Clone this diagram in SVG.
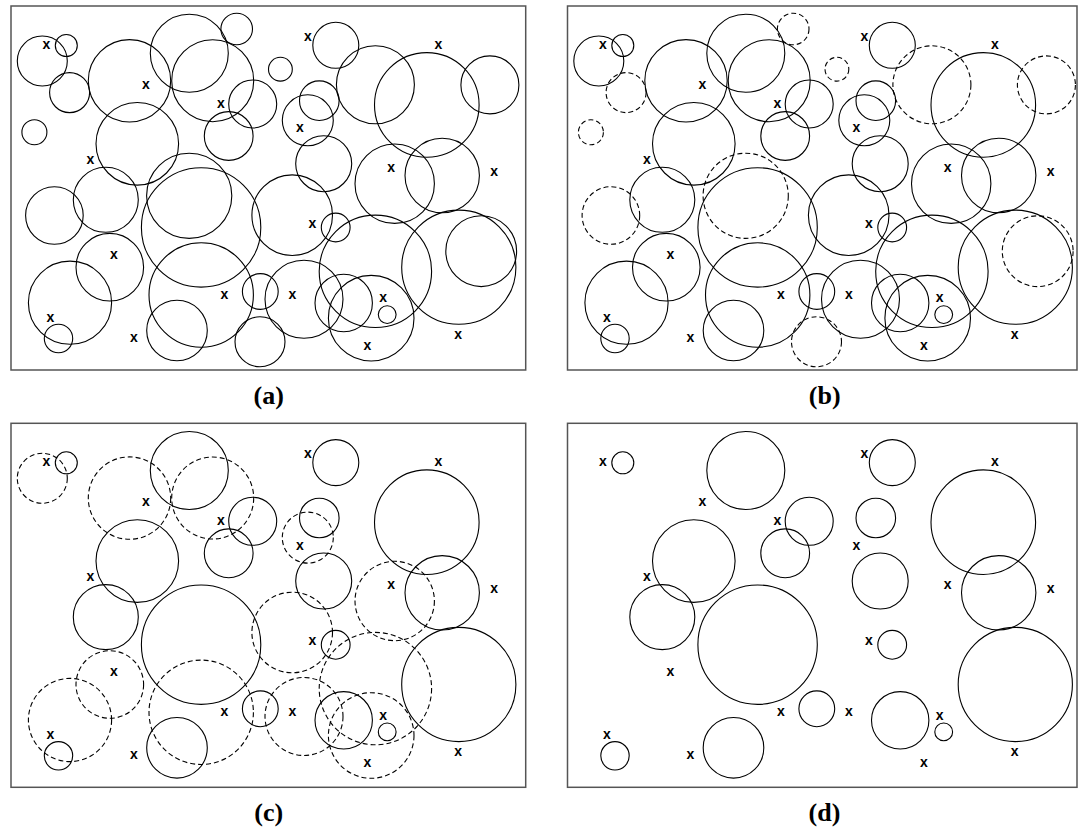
<svg xmlns="http://www.w3.org/2000/svg" xmlns:xlink="http://www.w3.org/1999/xlink" width="1078" height="835" viewBox="0 0 1078 835">
<style>
.s{fill:none;stroke:#000;stroke-width:1.1}
.d{fill:none;stroke:#000;stroke-width:1.1;stroke-dasharray:5 3}
.frame{fill:none;stroke:#555;stroke-width:1.5}
.m{font-family:"Liberation Sans",Arial,sans-serif;font-weight:bold;font-size:14px;text-anchor:middle;fill:#000}
.lbl{font-family:"Liberation Serif","Times New Roman",serif;font-weight:bold;font-size:26px;text-anchor:middle;fill:#000}
</style>
<defs>
<circle id="c1" cx="42.3" cy="61" r="25"/>
<circle id="c2" cx="66.3" cy="45.5" r="11"/>
<circle id="c3" cx="69.6" cy="92.6" r="20"/>
<circle id="c4" cx="129.5" cy="80.8" r="41.2"/>
<circle id="c5" cx="189.3" cy="53.2" r="39"/>
<circle id="c6" cx="212.7" cy="80.7" r="41"/>
<circle id="c7" cx="236.7" cy="29" r="15.8"/>
<circle id="c8" cx="252.7" cy="104" r="24"/>
<circle id="c9" cx="228.7" cy="136" r="24.4"/>
<circle id="c10" cx="34.4" cy="132.3" r="12.5"/>
<circle id="c11" cx="137.3" cy="143.8" r="41.3"/>
<circle id="c13" cx="335.8" cy="45.3" r="23"/>
<circle id="c14" cx="280.4" cy="69.2" r="11.9"/>
<circle id="c15" cx="375.4" cy="84.8" r="39"/>
<circle id="c16" cx="426.8" cy="104.9" r="52.3"/>
<circle id="c17" cx="489.9" cy="84.9" r="29"/>
<circle id="c18" cx="319.3" cy="100.7" r="19.8"/>
<circle id="c19" cx="307.8" cy="120.3" r="25.5"/>
<circle id="c20" cx="323.7" cy="163.7" r="28"/>
<circle id="c21" cx="394.7" cy="183.7" r="39.7"/>
<circle id="c22" cx="442.2" cy="175.5" r="37.2"/>
<circle id="c24" cx="54.4" cy="215.5" r="28.8"/>
<circle id="c25" cx="105.8" cy="199.8" r="32.5"/>
<circle id="c26" cx="201.1" cy="227.4" r="59.7"/>
<circle id="c27" cx="189.2" cy="195.8" r="42.6"/>
<circle id="c28" cx="109.8" cy="267.2" r="33.8"/>
<circle id="c29" cx="70" cy="302.7" r="41.6"/>
<circle id="c30" cx="58.5" cy="338.5" r="14.2"/>
<circle id="c31" cx="201.2" cy="295" r="52.2"/>
<circle id="c32" cx="177" cy="330.5" r="30.3"/>
<circle id="c33" cx="260.3" cy="291.5" r="17.9"/>
<circle id="c34" cx="260" cy="341.8" r="25"/>
<circle id="c36" cx="292.2" cy="215.2" r="40.3"/>
<circle id="c37" cx="335.7" cy="227.5" r="14.4"/>
<circle id="c38" cx="375.4" cy="271.3" r="56.2"/>
<circle id="c39" cx="458.8" cy="267.2" r="57.1"/>
<circle id="c40" cx="481.2" cy="251.2" r="35.4"/>
<circle id="c41" cx="304" cy="299.2" r="39"/>
<circle id="c42" cx="343.7" cy="303" r="28.7"/>
<circle id="c43" cx="371.2" cy="318.2" r="42.8"/>
<circle id="c44" cx="387.2" cy="314.6" r="8.9"/>
</defs>

<g id="panel-a">
<rect class="frame" x="11" y="6" width="514.7" height="364"/>
<g id="circles-a">
<use href="#c1" class="s"/><use href="#c2" class="s"/><use href="#c3" class="s"/><use href="#c4" class="s"/>
<use href="#c5" class="s"/><use href="#c6" class="s"/><use href="#c7" class="s"/><use href="#c8" class="s"/>
<use href="#c9" class="s"/><use href="#c10" class="s"/><use href="#c11" class="s"/><use href="#c13" class="s"/>
<use href="#c14" class="s"/><use href="#c15" class="s"/><use href="#c16" class="s"/><use href="#c17" class="s"/>
<use href="#c18" class="s"/><use href="#c19" class="s"/><use href="#c20" class="s"/><use href="#c21" class="s"/>
<use href="#c22" class="s"/><use href="#c24" class="s"/><use href="#c25" class="s"/><use href="#c26" class="s"/>
<use href="#c27" class="s"/><use href="#c28" class="s"/><use href="#c29" class="s"/><use href="#c30" class="s"/>
<use href="#c31" class="s"/><use href="#c32" class="s"/><use href="#c33" class="s"/><use href="#c34" class="s"/>
<use href="#c36" class="s"/><use href="#c37" class="s"/><use href="#c38" class="s"/><use href="#c39" class="s"/>
<use href="#c40" class="s"/><use href="#c41" class="s"/><use href="#c42" class="s"/><use href="#c43" class="s"/>
<use href="#c44" class="s"/>
</g>
<g id="marks-a">
<text class="m" x="46.5" y="48.7">x</text><text class="m" x="145.8" y="89.1">x</text><text class="m" x="220.8" y="107.9">x</text>
<text class="m" x="90.3" y="163.5">x</text><text class="m" x="307.8" y="41">x</text><text class="m" x="438.3" y="48.7">x</text>
<text class="m" x="299.8" y="132.4">x</text><text class="m" x="391.2" y="171.9">x</text><text class="m" x="494.2" y="176.1">x</text>
<text class="m" x="312.3" y="227.6">x</text><text class="m" x="114" y="259.1">x</text><text class="m" x="224.5" y="298.7">x</text>
<text class="m" x="292.3" y="298.7">x</text><text class="m" x="383.2" y="302.4">x</text><text class="m" x="50.3" y="321.9">x</text>
<text class="m" x="133.8" y="342.1">x</text><text class="m" x="367.5" y="350.2">x</text><text class="m" x="458.2" y="338.6">x</text>
</g>
<text class="lbl" x="268.7" y="404">(a)</text>
</g>

<g id="panel-b" transform="translate(556.5,0)">
<rect class="frame" x="11" y="6" width="509.5" height="364"/>
<g id="circles-b">
<use href="#c1" class="s"/><use href="#c2" class="s"/><use href="#c3" class="d"/><use href="#c4" class="s"/>
<use href="#c5" class="s"/><use href="#c6" class="s"/><use href="#c7" class="d"/><use href="#c8" class="s"/>
<use href="#c9" class="s"/><use href="#c10" class="d"/><use href="#c11" class="s"/><use href="#c13" class="s"/>
<use href="#c14" class="d"/><use href="#c15" class="d"/><use href="#c16" class="s"/><use href="#c17" class="d"/>
<use href="#c18" class="s"/><use href="#c19" class="s"/><use href="#c20" class="s"/><use href="#c21" class="s"/>
<use href="#c22" class="s"/><use href="#c24" class="d"/><use href="#c25" class="s"/><use href="#c26" class="s"/>
<use href="#c27" class="d"/><use href="#c28" class="s"/><use href="#c29" class="s"/><use href="#c30" class="s"/>
<use href="#c31" class="s"/><use href="#c32" class="s"/><use href="#c33" class="s"/><use href="#c34" class="d"/>
<use href="#c36" class="s"/><use href="#c37" class="s"/><use href="#c38" class="s"/><use href="#c39" class="s"/>
<use href="#c40" class="d"/><use href="#c41" class="s"/><use href="#c42" class="s"/><use href="#c43" class="s"/>
<use href="#c44" class="s"/>
</g>
<g id="marks-b">
<text class="m" x="46.5" y="48.7">x</text><text class="m" x="145.8" y="89.1">x</text><text class="m" x="220.8" y="107.9">x</text>
<text class="m" x="90.3" y="163.5">x</text><text class="m" x="307.8" y="41">x</text><text class="m" x="438.3" y="48.7">x</text>
<text class="m" x="299.8" y="132.4">x</text><text class="m" x="391.2" y="171.9">x</text><text class="m" x="494.2" y="176.1">x</text>
<text class="m" x="312.3" y="227.6">x</text><text class="m" x="114" y="259.1">x</text><text class="m" x="224.5" y="298.7">x</text>
<text class="m" x="292.3" y="298.7">x</text><text class="m" x="383.2" y="302.4">x</text><text class="m" x="50.3" y="321.9">x</text>
<text class="m" x="133.8" y="342.1">x</text><text class="m" x="367.5" y="350.2">x</text><text class="m" x="458.2" y="338.6">x</text>
</g>
<text class="lbl" x="268.2" y="404">(b)</text>
</g>

<g id="panel-c" transform="translate(0,417.3)">
<rect class="frame" x="11" y="6" width="514.7" height="364"/>
<g id="circles-c">
<use href="#c1" class="d"/><use href="#c2" class="s"/><use href="#c4" class="d"/>
<use href="#c5" class="s"/><use href="#c6" class="d"/><use href="#c8" class="s"/>
<use href="#c9" class="s"/><use href="#c11" class="s"/><use href="#c13" class="s"/>
<use href="#c16" class="s"/>
<use href="#c18" class="s"/><use href="#c19" class="d"/><use href="#c20" class="s"/><use href="#c21" class="d"/>
<use href="#c22" class="s"/><use href="#c25" class="s"/><use href="#c26" class="s"/>
<use href="#c28" class="d"/><use href="#c29" class="d"/><use href="#c30" class="s"/>
<use href="#c31" class="d"/><use href="#c32" class="s"/><use href="#c33" class="s"/>
<use href="#c36" class="d"/><use href="#c37" class="s"/><use href="#c38" class="d"/><use href="#c39" class="s"/>
<use href="#c41" class="d"/><use href="#c42" class="s"/><use href="#c43" class="d"/>
<use href="#c44" class="s"/>
</g>
<g id="marks-c">
<text class="m" x="46.5" y="48.7">x</text><text class="m" x="145.8" y="89.1">x</text><text class="m" x="220.8" y="107.9">x</text>
<text class="m" x="90.3" y="163.5">x</text><text class="m" x="307.8" y="41">x</text><text class="m" x="438.3" y="48.7">x</text>
<text class="m" x="299.8" y="132.4">x</text><text class="m" x="391.2" y="171.9">x</text><text class="m" x="494.2" y="176.1">x</text>
<text class="m" x="312.3" y="227.6">x</text><text class="m" x="114" y="259.1">x</text><text class="m" x="224.5" y="298.7">x</text>
<text class="m" x="292.3" y="298.7">x</text><text class="m" x="383.2" y="302.4">x</text><text class="m" x="50.3" y="321.9">x</text>
<text class="m" x="133.8" y="342.1">x</text><text class="m" x="367.5" y="350.2">x</text><text class="m" x="458.2" y="338.6">x</text>
</g>
<text class="lbl" x="268.8" y="404">(c)</text>
</g>

<g id="panel-d" transform="translate(556.5,417.3)">
<rect class="frame" x="11" y="6" width="509.5" height="364"/>
<g id="circles-d">
<use href="#c2" class="s"/><use href="#c5" class="s"/><use href="#c8" class="s"/>
<use href="#c9" class="s"/><use href="#c11" class="s"/><use href="#c13" class="s"/>
<use href="#c16" class="s"/><use href="#c18" class="s"/><use href="#c20" class="s"/>
<use href="#c22" class="s"/><use href="#c25" class="s"/><use href="#c26" class="s"/>
<use href="#c30" class="s"/><use href="#c32" class="s"/><use href="#c33" class="s"/>
<use href="#c37" class="s"/><use href="#c39" class="s"/><use href="#c42" class="s"/>
<use href="#c44" class="s"/>
</g>
<g id="marks-d">
<text class="m" x="46.5" y="48.7">x</text><text class="m" x="145.8" y="89.1">x</text><text class="m" x="220.8" y="107.9">x</text>
<text class="m" x="90.3" y="163.5">x</text><text class="m" x="307.8" y="41">x</text><text class="m" x="438.3" y="48.7">x</text>
<text class="m" x="299.8" y="132.4">x</text><text class="m" x="391.2" y="171.9">x</text><text class="m" x="494.2" y="176.1">x</text>
<text class="m" x="312.3" y="227.6">x</text><text class="m" x="114" y="259.1">x</text><text class="m" x="224.5" y="298.7">x</text>
<text class="m" x="292.3" y="298.7">x</text><text class="m" x="383.2" y="302.4">x</text><text class="m" x="50.3" y="321.9">x</text>
<text class="m" x="133.8" y="342.1">x</text><text class="m" x="367.5" y="350.2">x</text><text class="m" x="458.2" y="338.6">x</text>
</g>
<text class="lbl" x="268" y="404">(d)</text>
</g>
</svg>
